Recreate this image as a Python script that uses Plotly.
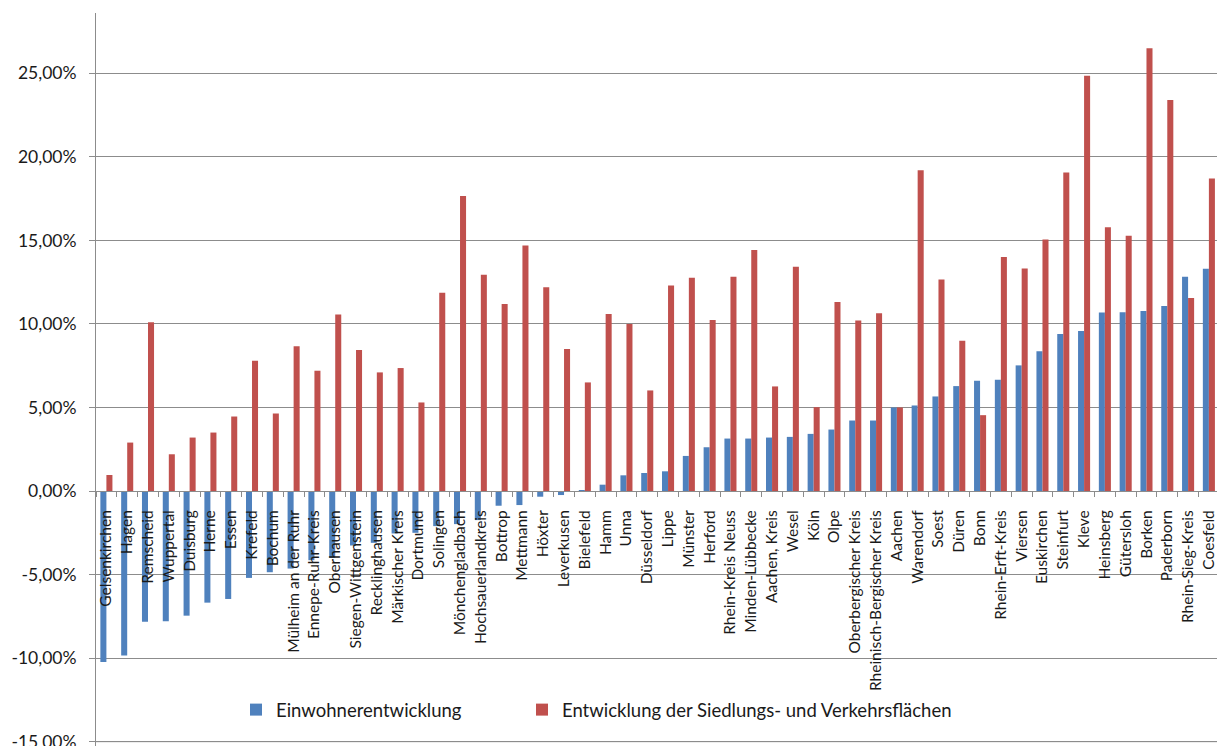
import plotly.graph_objects as go

# Kreise und kreisfreie Städte in NRW
categories = [
    "Gelsenkirchen", "Hagen", "Remscheid", "Wuppertal", "Duisburg", "Herne", "Essen",
    "Krefeld", "Bochum", "Mülheim an der Ruhr", "Ennepe-Ruhr-Kreis", "Oberhausen",
    "Siegen-Wittgenstein", "Recklinghausen", "Märkischer Kreis", "Dortmund", "Solingen",
    "Mönchengladbach", "Hochsauerlandkreis", "Bottrop", "Mettmann", "Höxter", "Leverkusen",
    "Bielefeld", "Hamm", "Unna", "Düsseldorf", "Lippe", "Münster", "Herford",
    "Rhein-Kreis Neuss", "Minden-Lübbecke", "Aachen, Kreis", "Wesel", "Köln", "Olpe",
    "Oberbergischer Kreis", "Rheinisch-Bergischer Kreis", "Aachen", "Warendorf", "Soest",
    "Düren", "Bonn", "Rhein-Erft-Kreis", "Viersen", "Euskirchen", "Steinfurt", "Kleve",
    "Heinsberg", "Gütersloh", "Borken", "Paderborn", "Rhein-Sieg-Kreis", "Coesfeld",
]

# Veränderung in Prozent
einwohner = [
    -10.24, -9.84, -7.82, -7.80, -7.46, -6.68, -6.46, -5.20, -4.86, -4.64, -4.14, -4.00,
    -3.26, -3.10, -2.54, -2.50, -2.10, -1.98, -1.74, -0.88, -0.84, -0.34, -0.24, 0.06,
    0.38, 0.94, 1.08, 1.18, 2.10, 2.62, 3.14, 3.14, 3.20, 3.24, 3.42, 3.68, 4.22, 4.22,
    5.00, 5.12, 5.66, 6.28, 6.60, 6.66, 7.52, 8.36, 9.40, 9.58, 10.68, 10.70, 10.78,
    11.08, 12.82, 13.30,
]
flaechen = [
    0.96, 2.90, 10.10, 2.20, 3.20, 3.50, 4.46, 7.80, 4.64, 8.66, 7.20, 10.56, 8.44, 7.10,
    7.36, 5.30, 11.86, 17.66, 12.94, 11.20, 14.70, 12.20, 8.50, 6.50, 10.60, 10.00, 6.02,
    12.30, 12.76, 10.24, 12.82, 14.42, 6.26, 13.42, 5.02, 11.32, 10.20, 10.64, 5.00,
    19.20, 12.66, 9.00, 4.54, 14.00, 13.32, 15.06, 19.06, 24.86, 15.78, 15.28, 26.50,
    23.40, 11.56, 18.70,
]

y_tick_values = [-15, -10, -5, 0, 5, 10, 15, 20, 25]
y_tick_labels = ["-15,00%", "-10,00%", "-5,00%", "0,00%", "5,00%",
                 "10,00%", "15,00%", "20,00%", "25,00%"]

BLUE = "#4F81BD"
RED = "#C0504D"
GRID = "#8C8C8C"
FONT = "Lato, sans-serif"
TEXT = "#1a1a1a"

y_min, y_max = -15.26, 28.61

fig = go.Figure()
fig.add_trace(go.Bar(x=categories, y=einwohner, name="Einwohnerentwicklung",
                     marker=dict(color=BLUE, line=dict(width=0)), legend="legend"))
fig.add_trace(go.Bar(x=categories, y=flaechen,
                     name="Entwicklung der Siedlungs- und Verkehrsflächen",
                     marker=dict(color=RED, line=dict(width=0)), legend="legend2"))

# lowest horizontal gridline sits at the very bottom edge of the plot area
fig.add_shape(type="line", xref="paper", x0=0, x1=1, yref="y",
              y0=y_tick_values[0], y1=y_tick_values[0],
              line=dict(color=GRID, width=1), layer="below")

zero_pos = (0 - y_min) / (y_max - y_min)

legend_style = dict(orientation="h", yanchor="middle", xanchor="left",
                    font=dict(family=FONT, size=18.5, color=TEXT),
                    bgcolor="rgba(0,0,0,0)", borderwidth=0)

fig.update_layout(
    width=1217, height=746,
    margin=dict(l=96, r=0, t=13, b=0, autoexpand=False),
    paper_bgcolor="white", plot_bgcolor="white",
    barmode="group", bargap=0.42, bargroupgap=0,
    font=dict(family=FONT, size=16, color=TEXT),
    showlegend=True,
    legend=dict(x=(236 - 96) / 1121, y=0.049, **legend_style),
    legend2=dict(x=(522 - 96) / 1121, y=0.049, **legend_style),
    xaxis=dict(
        type="category", range=[-0.5, 53.39],
        anchor="free", position=zero_pos, automargin=False,
        showline=True, linecolor=GRID, linewidth=1,
        showgrid=False, zeroline=False,
        tickmode="linear", tick0=0, dtick=1, tickson="boundaries",
        ticks="outside", ticklen=5, tickcolor=GRID, tickwidth=1,
        tickangle=-90, ticklabelstandoff=12,
        tickfont=dict(family=FONT, size=15.5, color=TEXT),
    ),
    yaxis=dict(
        range=[y_min, y_max], automargin=False,
        tickmode="array", tickvals=y_tick_values, ticktext=y_tick_labels,
        showline=True, linecolor=GRID, linewidth=1,
        showgrid=True, gridcolor=GRID, gridwidth=1,
        zeroline=False,
        ticks="outside", ticklen=6, tickcolor=GRID,
        ticklabelstandoff=9, ticklabeloverflow="allow",
        tickfont=dict(family=FONT, size=17.5, color=TEXT),
    ),
)

fig.write_html("out.html")
